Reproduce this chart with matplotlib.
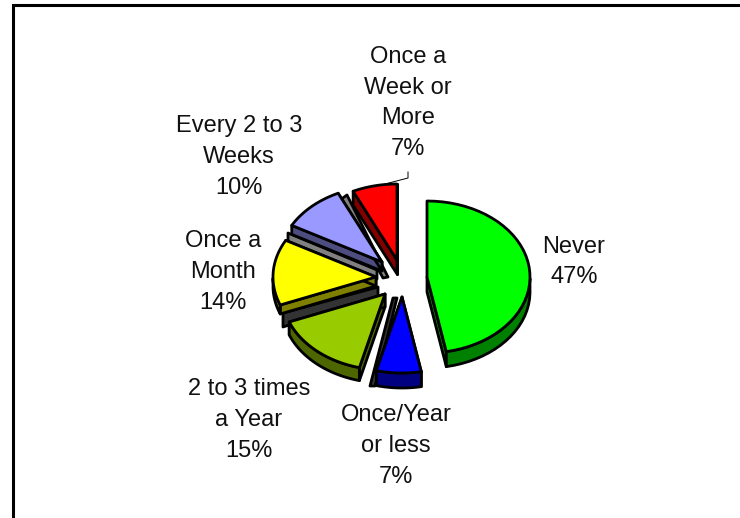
import numpy as np
import matplotlib
matplotlib.use("Agg")
import matplotlib.pyplot as plt
from matplotlib.patches import Polygon

plt.rcParams['font.family'] = ['Liberation Sans', 'DejaVu Sans']

# chart data, clockwise from 12 o'clock
labels = ["Never", "Once/Year\nor less", "2 to 3 times\na Year", "Once a\nMonth",
          "Every 2 to 3\nWeeks", "Once a\nWeek or\nMore"]
values = [47, 7, 15, 14, 10, 7]

top_colors = ["#00FF00", "#0000FF", "#99CC00", "#FFFF00", "#9999FF", "#FF0000"]
wall_colors = ["#008000", "#000080", "#4D6600", "#808000", "#4D4D80", "#800000"]

# layout, in pixels
apex = [(427, 277), (402, 297), (385, 294), (376, 277), (382, 262), (397, 260)]
depth = [15, 15, 13, 9, 9, 14]
label_pos = [(574, 262), (396, 446), (249, 420), (223, 272), (239, 157), (408, 103)]
RX, RY = 103, 76

fig = plt.figure(figsize=(7.4, 5.18), dpi=100)
ax = fig.add_axes([0, 0, 1, 1])
ax.set_xlim(0, 740)
ax.set_ylim(518, 0)
ax.axis("off")

# frame, only left and top fall inside the picture
ax.plot([13, 13, 740], [518, 5, 5], color="black", lw=2.2, solid_joinstyle="miter")


def poly(pts, color, z):
    ax.add_patch(Polygon(pts, closed=True, fc=color, ec="black", lw=2.0, joinstyle="round", zorder=z))


angle = 0
for i, v in enumerate(values):
    sweep = v * 3.6
    t = np.radians(np.linspace(angle, angle + sweep, 40))
    angle += sweep
    x0, y0 = apex[i]
    xs = x0 + RX * np.sin(t)
    ys = y0 - RY * np.cos(t)

    # side walls first, top face goes over them
    down = (t > np.pi / 2) & (t < 3 * np.pi / 2)
    if down.any():
        wx, wy = xs[down], ys[down]
        poly(np.r_[np.c_[wx, wy], np.c_[wx, wy + depth[i]][::-1]], wall_colors[i], 3)
    for x1, y1 in [(xs[0], ys[0]), (xs[-1], ys[-1])]:
        poly([(x0, y0), (x1, y1), (x1, y1 + depth[i]), (x0, y0 + depth[i])], wall_colors[i], 2)
    poly(np.r_[[(x0, y0)], np.c_[xs, ys]], top_colors[i], 4)

    ax.text(label_pos[i][0], label_pos[i][1], f"{labels[i]}\n{v}%", ha="center", va="center",
            fontsize=17, linespacing=1.52, color="#111111", zorder=6)

# grey inner walls between the exploded slices
poly([(347, 195), (388, 277), (383, 278), (340, 200)], "#808080", 1)
poly([(288, 233), (377, 270), (377, 279), (288, 243)], "#808080", 1)
poly([(283, 313), (378, 287), (378, 296), (283, 327)], "#333333", 1)
poly([(393, 298), (397, 298), (375, 386), (370, 386)], "#333333", 1)

# leader line for the top label
ax.plot([385, 408, 408], [184, 178, 172], color="black", lw=0.7, zorder=5)

fig.savefig("out.png", dpi=100)
